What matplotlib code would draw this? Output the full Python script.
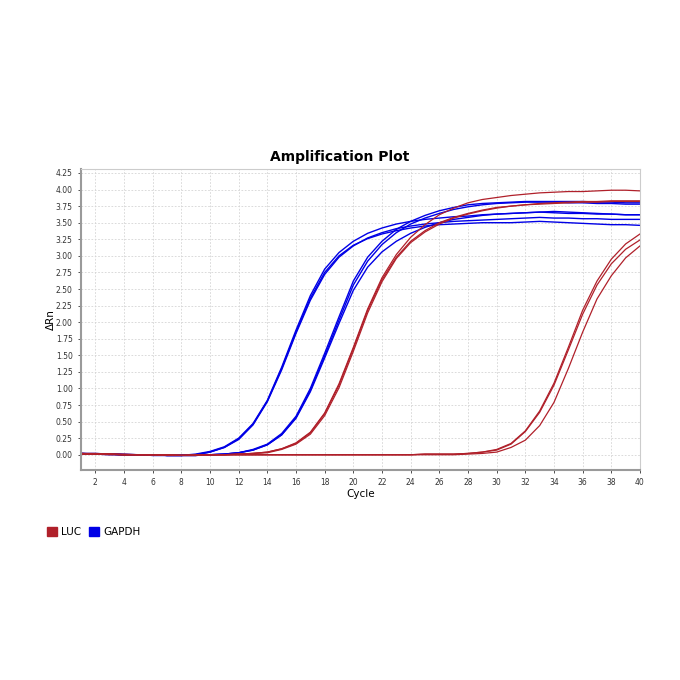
import matplotlib
matplotlib.use("Agg")
import matplotlib.pyplot as plt
from matplotlib.patches import Patch

# cycles 1..40
cycles = list(range(1, 41))

# GAPDH, early group
gapdh_a1 = [0.02, 0.02, 0.01, 0.01, 0.00, 0.00, -0.01, -0.01, 0.01, 0.05,
            0.12, 0.25, 0.47, 0.82, 1.32, 1.88, 2.40, 2.80, 3.05, 3.22,
            3.34, 3.42, 3.48, 3.52, 3.55, 3.57, 3.59, 3.60, 3.62, 3.63,
            3.64, 3.65, 3.66, 3.65, 3.64, 3.64, 3.63, 3.63, 3.62, 3.62]
gapdh_a2 = [0.01, 0.01, 0.01, 0.00, 0.00, -0.01, -0.01, -0.01, 0.00, 0.04,
            0.11, 0.23, 0.45, 0.80, 1.28, 1.83, 2.33, 2.72, 2.98, 3.15,
            3.27, 3.35, 3.41, 3.45, 3.48, 3.50, 3.52, 3.53, 3.54, 3.55,
            3.56, 3.57, 3.58, 3.57, 3.57, 3.56, 3.56, 3.55, 3.55, 3.55]
gapdh_a3 = [0.02, 0.01, 0.01, 0.00, 0.00, 0.00, -0.01, -0.01, 0.00, 0.04,
            0.11, 0.24, 0.46, 0.81, 1.30, 1.85, 2.36, 2.75, 3.00, 3.16,
            3.26, 3.33, 3.38, 3.42, 3.45, 3.47, 3.48, 3.49, 3.50, 3.50,
            3.50, 3.51, 3.52, 3.51, 3.50, 3.49, 3.48, 3.47, 3.47, 3.46]

# GAPDH, later group
gapdh_b1 = [0.01, 0.01, 0.00, 0.00, 0.00, 0.00, -0.01, -0.01, -0.01, 0.00,
            0.01, 0.03, 0.08, 0.16, 0.32, 0.58, 1.00, 1.53, 2.08, 2.62,
            2.98, 3.22, 3.40, 3.52, 3.61, 3.68, 3.73, 3.77, 3.79, 3.80,
            3.81, 3.82, 3.82, 3.82, 3.82, 3.82, 3.81, 3.81, 3.80, 3.80]
gapdh_b2 = [0.01, 0.01, 0.01, 0.00, 0.00, -0.01, -0.01, -0.01, -0.01, 0.00,
            0.01, 0.03, 0.07, 0.15, 0.30, 0.56, 0.97, 1.49, 2.03, 2.56,
            2.92, 3.17, 3.35, 3.48, 3.57, 3.64, 3.70, 3.74, 3.77, 3.79,
            3.80, 3.81, 3.81, 3.81, 3.80, 3.80, 3.79, 3.79, 3.78, 3.78]
gapdh_b3 = [0.02, 0.01, 0.01, 0.00, 0.00, 0.00, -0.01, -0.01, -0.01, 0.00,
            0.01, 0.03, 0.07, 0.15, 0.30, 0.55, 0.95, 1.46, 1.98, 2.48,
            2.83, 3.06, 3.22, 3.34, 3.43, 3.50, 3.55, 3.58, 3.61, 3.63,
            3.64, 3.65, 3.66, 3.67, 3.66, 3.65, 3.64, 3.63, 3.62, 3.62]

# LUC, early group
luc_c1 = [0.01, 0.01, 0.01, 0.00, 0.00, 0.00, 0.00, -0.01, -0.01, 0.00,
          0.00, 0.01, 0.02, 0.04, 0.09, 0.18, 0.34, 0.63, 1.07, 1.62,
          2.20, 2.67, 3.02, 3.28, 3.47, 3.62, 3.72, 3.80, 3.85, 3.88,
          3.91, 3.93, 3.95, 3.96, 3.97, 3.97, 3.98, 3.99, 3.99, 3.98]
luc_c2 = [0.02, 0.01, 0.01, 0.00, 0.00, 0.00, -0.01, -0.01, -0.01, 0.00,
          0.00, 0.01, 0.02, 0.04, 0.09, 0.17, 0.33, 0.62, 1.05, 1.60,
          2.18, 2.64, 2.98, 3.22, 3.38, 3.50, 3.58, 3.64, 3.69, 3.73,
          3.75, 3.77, 3.79, 3.80, 3.81, 3.82, 3.82, 3.83, 3.83, 3.83]
luc_c3 = [0.01, 0.01, 0.00, 0.00, 0.00, 0.00, -0.01, -0.01, -0.01, 0.00,
          0.00, 0.01, 0.02, 0.03, 0.08, 0.16, 0.31, 0.59, 1.01, 1.56,
          2.14, 2.61, 2.96, 3.20, 3.36, 3.48, 3.57, 3.63, 3.68, 3.72,
          3.75, 3.77, 3.78, 3.79, 3.80, 3.81, 3.81, 3.82, 3.82, 3.82]

# LUC, late group
luc_d1 = [0.02, 0.02, 0.01, 0.01, 0.00, 0.00, 0.00, -0.01, 0.00, 0.00,
          0.00, 0.00, 0.00, 0.00, 0.00, 0.00, 0.00, 0.00, 0.00, 0.00,
          0.00, 0.00, 0.00, 0.00, 0.01, 0.01, 0.01, 0.02, 0.04, 0.08,
          0.17, 0.36, 0.66, 1.08, 1.62, 2.18, 2.62, 2.95, 3.18, 3.33]
luc_d2 = [0.01, 0.01, 0.01, 0.00, 0.00, 0.00, -0.01, -0.01, 0.00, 0.00,
          0.00, 0.00, 0.00, 0.00, 0.00, 0.00, 0.00, 0.00, 0.00, 0.00,
          0.00, 0.00, 0.00, 0.00, 0.01, 0.01, 0.01, 0.02, 0.04, 0.07,
          0.16, 0.35, 0.64, 1.05, 1.58, 2.12, 2.56, 2.88, 3.10, 3.24]
luc_d3 = [0.02, 0.01, 0.01, 0.00, 0.00, 0.00, 0.00, -0.01, -0.01, 0.00,
          0.00, 0.00, 0.00, 0.00, 0.00, 0.00, 0.00, 0.00, 0.00, 0.00,
          0.00, 0.00, 0.00, 0.00, 0.00, 0.00, 0.00, 0.01, 0.02, 0.04,
          0.11, 0.22, 0.44, 0.79, 1.30, 1.85, 2.35, 2.70, 2.97, 3.15]

gapdh_curves = [gapdh_a1, gapdh_a2, gapdh_a3, gapdh_b1, gapdh_b2, gapdh_b3]
luc_curves = [luc_c1, luc_c2, luc_c3, luc_d1, luc_d2, luc_d3]

x_ticks = list(range(2, 41, 2))
y_ticks = [i * 0.25 for i in range(18)]

blue = "#0000e6"
red = "#b0202a"

fig = plt.figure(figsize=(6.8, 6.8), dpi=100)
ax = fig.add_axes([81 / 680, 1 - 470 / 680, (640 - 81) / 680, (470 - 169) / 680])

for c in gapdh_curves:
    ax.plot(cycles, c, color=blue, lw=1.0)
for c in luc_curves:
    ax.plot(cycles, c, color=red, lw=0.9)

ax.set_xlim(1, 40)
ax.set_ylim(-0.23, 4.31)
ax.set_xticks(x_ticks)
ax.set_yticks(y_ticks)
ax.set_yticklabels(["%.2f" % v for v in y_ticks])
ax.grid(True, color="#d4d4d4", lw=0.6, ls=(0, (2, 2)))
ax.set_axisbelow(True)

ax.tick_params(labelsize=5.5, colors="#333333", length=2.5, width=0.6)
for s in ["left", "bottom"]:
    ax.spines[s].set_color("#9a9a9a")
    ax.spines[s].set_linewidth(1.5)
for s in ["top", "right"]:
    ax.spines[s].set_color("#cccccc")
    ax.spines[s].set_linewidth(0.8)

ax.set_xlabel("Cycle", fontsize=7.5, labelpad=1)
ax.set_ylabel("ΔRn", fontsize=7.5, labelpad=0)

fig.text(0.5, 1 - 157 / 680, "Amplification Plot", fontsize=10, fontweight="bold",
         ha="center", va="center")

handles = [Patch(facecolor=red, edgecolor=red), Patch(facecolor=blue, edgecolor=blue)]
fig.legend(handles, ["LUC", "GAPDH"], loc="center left",
           bbox_to_anchor=(46.7 / 680, 1 - 532 / 680), ncol=2, frameon=False,
           fontsize=7.5, handlelength=0.95, handleheight=0.95, handletextpad=0.4,
           columnspacing=0.8, borderpad=0, borderaxespad=0)

fig.savefig("out.png", dpi=100)
